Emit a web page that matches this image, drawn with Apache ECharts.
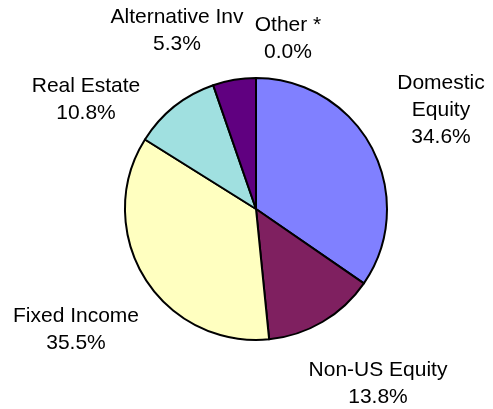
<!DOCTYPE html>
<html>
<head>
<meta charset="utf-8">
<script src="https://cdn.jsdelivr.net/npm/echarts@6/dist/echarts.min.js"></script>
<style>
html,body{margin:0;padding:0;background:#fff;}
#chart{width:493px;height:409px;}
</style>
</head>
<body>
<div id="chart"></div>
<script>
const categories = ['Domestic Equity', 'Non-US Equity', 'Fixed Income', 'Real Estate', 'Alternative Inv', 'Other *'];
const values = [34.6, 13.8, 35.5, 10.8, 5.3, 0.0];
const colors = ['#8080FF', '#7F2060', '#FFFFC0', '#A0E0E0', '#600080', '#FFFFFF'];
// label block centres (layout only)
const labelPos = [[441, 110], [378, 384], [76, 330], [86, 100], [177, 31], [288, 39]];

const chart = echarts.init(document.getElementById('chart'), null, {renderer: 'canvas'});
chart.setOption({
  animation: false,
  backgroundColor: '#ffffff',
  series: [{
    type: 'pie',
    center: [256, 209],
    radius: 131,
    startAngle: 90,
    clockwise: true,
    avoidLabelOverlap: false,
    stillShowZeroSum: true,
    minShowLabelAngle: 0,
    data: categories.map((c, i) => ({name: c, value: values[i], itemStyle: {color: colors[i]}})),
    itemStyle: {borderColor: '#000', borderWidth: 2},
    label: {
      show: true,
      position: 'outside',
      fontFamily: 'Liberation Sans, Arial, sans-serif',
      fontSize: 21,
      lineHeight: 27,
      color: '#000',
      align: 'center',
      formatter: p => (p.name === 'Domestic Equity' ? 'Domestic\nEquity' : p.name) + '\n' + p.value.toFixed(1) + '%'
    },
    labelLine: {show: false},
    labelLayout: p => ({
      x: labelPos[p.dataIndex][0],
      y: labelPos[p.dataIndex][1],
      align: 'center',
      verticalAlign: 'middle',
      hideOverlap: false
    }),
    emphasis: {disabled: true}
  }]
});
</script>
</body>
</html>
